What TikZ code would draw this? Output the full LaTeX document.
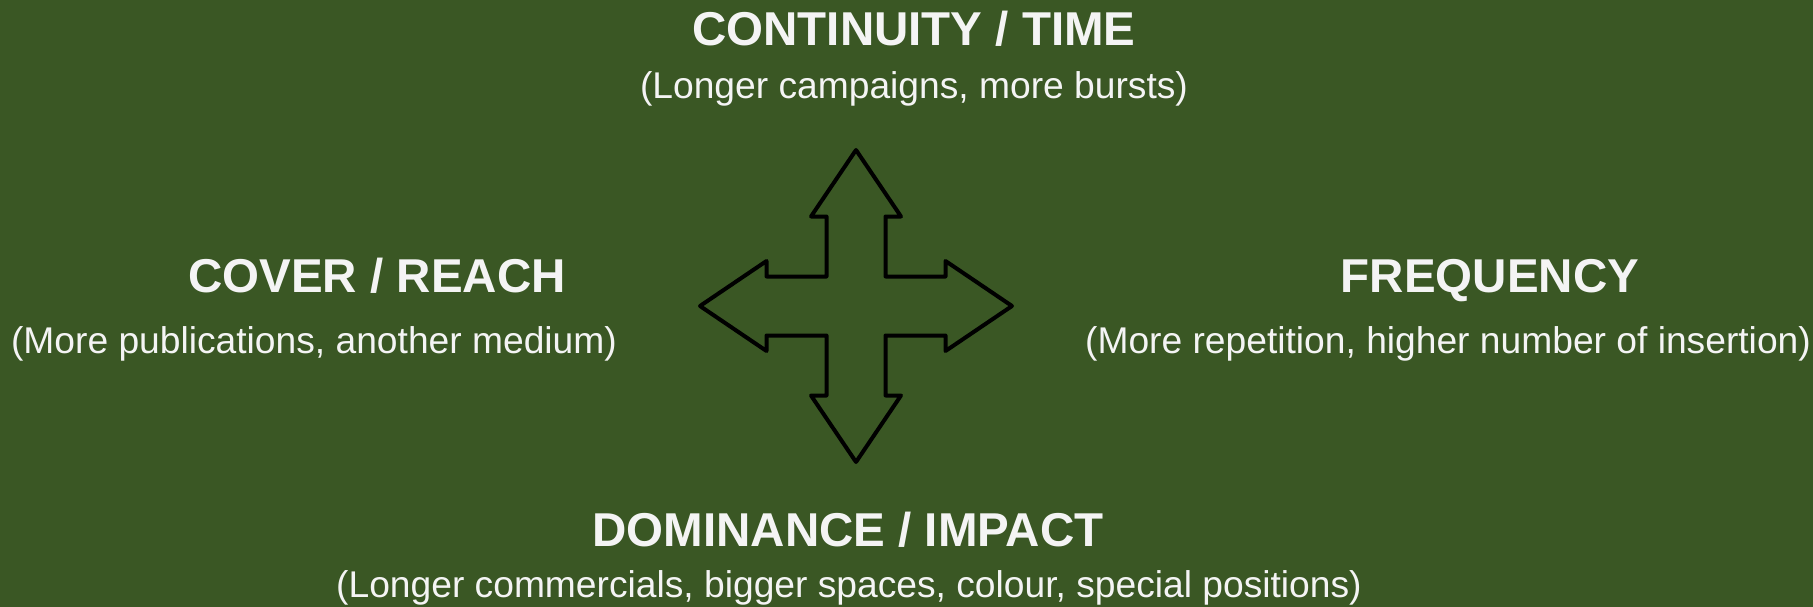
\documentclass[tikz,border=0pt]{standalone}
\usepackage{fontspec}
\setmainfont{Liberation Sans}
\definecolor{panelgreen}{HTML}{3A5724}
\definecolor{paper}{HTML}{F4F4F4}
\begin{document}
\begin{tikzpicture}[x=1pt,y=-1pt,
  heading/.style={anchor=base,text=paper,inner sep=0pt,font=\fontsize{47.5}{56}\selectfont\bfseries},
  note/.style={anchor=base,text=paper,inner sep=0pt,font=\fontsize{37.2}{44}\selectfont},
  crossline/.style={draw=black,line width=4pt,line join=round}]
% panel
\fill[panelgreen] (0,0) rectangle (1813,607);
\useasboundingbox (0,0) rectangle (1813,607);

% four-way arrow
\def\sh{29.5}\def\hd{45}\def\hb{89.5}\def\tp{156}
\begin{scope}[shift={(856,306)}]
\draw[crossline]
  (0,-\tp) -- (\hd,-\hb) -- (\sh,-\hb) -- (\sh,-\sh) -- (\hb,-\sh) -- (\hb,-\hd)
  -- (\tp,0) -- (\hb,\hd) -- (\hb,\sh) -- (\sh,\sh) -- (\sh,\hb) -- (\hd,\hb)
  -- (0,\tp) -- (-\hd,\hb) -- (-\sh,\hb) -- (-\sh,\sh) -- (-\hb,\sh) -- (-\hb,\hd)
  -- (-\tp,0) -- (-\hb,-\hd) -- (-\hb,-\sh) -- (-\sh,-\sh) -- (-\sh,-\hb) -- (-\hd,-\hb)
  -- cycle;
\end{scope}

% labels
\node[heading] (timeT) at (914,45.5) {CONTINUITY / TIME};
\node[note] (timeN) at (914,98.5) {(Longer campaigns, more bursts)};

\node[heading] (reachT) at (377,292) {COVER / REACH};
\node[note] (reachN) at (314,353.5) {(More publications, another medium)};

\node[heading] (freqT) at (1490,292) {FREQUENCY};
\node[note] (freqN) at (1448,353.5) {(More repetition, higher number of insertion)};

\node[heading] (domT) at (848,546.5) {DOMINANCE / IMPACT};
\node[note] (domN) at (849,597) {(Longer commercials, bigger spaces, colour, special positions)};
\end{tikzpicture}
\end{document}
